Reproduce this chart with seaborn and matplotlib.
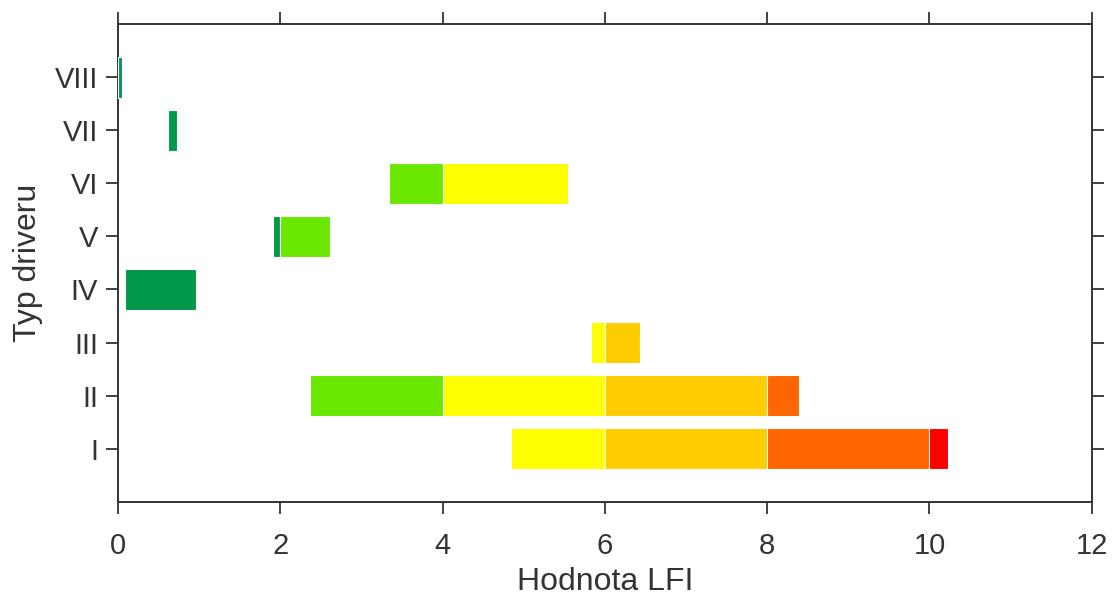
import matplotlib
matplotlib.use("Agg")
import matplotlib.pyplot as plt
import seaborn as sns
import pandas as pd

# driver types and their LFI ranges
drivers = ["I", "II", "III", "IV", "V", "VI", "VII", "VIII"]
lfi_start = [4.84, 2.36, 5.83, 0.08, 1.91, 3.34, 0.61, 0.00]
lfi_end = [10.23, 8.39, 6.43, 0.96, 2.61, 5.54, 0.73, 0.05]

# colour bands of the LFI scale
band_edges = [0, 2, 4, 6, 8, 10, 12]
band_colors = ["#00994A", "#6AE800", "#FFFF00", "#FFCC00", "#FF6600", "#FF0000"]

# split every range into segments by colour band
rows = []
for i, (d, s, e) in enumerate(zip(drivers, lfi_start, lfi_end)):
    for lo, hi, c in zip(band_edges[:-1], band_edges[1:], band_colors):
        a, b = max(s, lo), min(e, hi)
        if b > a:
            rows.append({"driver": d, "pos": i, "left": a, "width": b - a, "color": c})
seg = pd.DataFrame(rows)

sns.set_theme(style="ticks")
plt.rcParams["font.family"] = ["Liberation Sans", "DejaVu Sans"]
dark = "#333333"

fig = plt.figure(figsize=(11.14, 6.01), dpi=100)
ax = fig.add_axes([0.106, 0.165, 0.874, 0.795])

ax.barh(seg["pos"], seg["width"], left=seg["left"], height=0.77,
        color=seg["color"], edgecolor="white", linewidth=0.8,
        zorder=3, clip_on=False)

ax.set_xlim(0, 12)
ax.set_ylim(-1, 8)
ax.set_xticks(range(0, 13, 2))
ax.set_yticks(range(len(drivers)))
ax.set_yticklabels(drivers)

for sp in ax.spines.values():
    sp.set_visible(True)
    sp.set_color(dark)
    sp.set_linewidth(1.4)
    sp.set_zorder(2)
ax.tick_params(axis="both", which="both", direction="out", length=8.5, width=1.3,
               color=dark, labelcolor=dark, labelsize=21,
               top=True, right=True, labeltop=False, labelright=False)
ax.tick_params(axis="x", pad=13)
ax.tick_params(axis="y", pad=6)

ax.set_xlabel("Hodnota LFI", fontsize=23, color=dark, labelpad=5)
ax.set_ylabel("Typ driveru", fontsize=23, color=dark, labelpad=8)

fig.savefig("out.png", dpi=100)
plt.close(fig)
